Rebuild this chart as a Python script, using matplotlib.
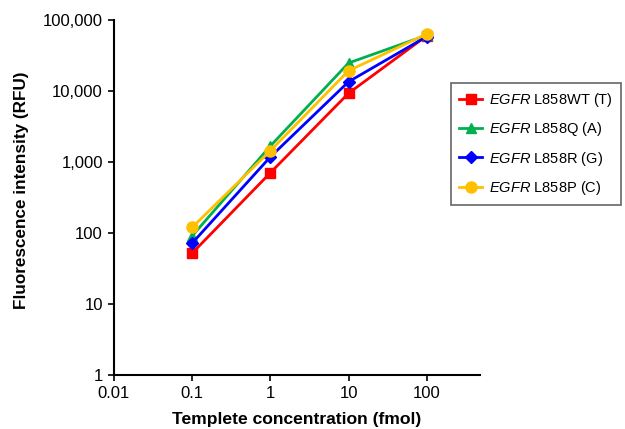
import matplotlib
matplotlib.use("Agg")
import matplotlib.pyplot as plt
import matplotlib.ticker as tck

plt.rcParams['font.family'] = ['Liberation Sans', 'DejaVu Sans']
plt.rcParams['mathtext.fontset'] = 'custom'
plt.rcParams['mathtext.it'] = 'Liberation Sans:italic'
plt.rcParams['mathtext.rm'] = 'Liberation Sans'

# template concentration (fmol)
conc = [0.1, 1, 10, 100]

# fluorescence intensity (RFU)
wt_T = [52, 705, 9300, 60000]
q_A = [91, 1680, 24800, 61000]
r_G = [72, 1180, 13500, 58500]
p_C = [120, 1440, 19300, 63500]

labels = [r'$\it{EGFR}$ L858WT (T)', r'$\it{EGFR}$ L858Q (A)',
          r'$\it{EGFR}$ L858R (G)', r'$\it{EGFR}$ L858P (C)']
colors = ['#ff0000', '#00b050', '#0000ff', '#ffc000']
markers = ['s', '^', 'D', 'o']
msizes = [7, 7.5, 6, 8]

yticks = [1, 10, 100, 1000, 10000, 100000]
xticks = [0.01, 0.1, 1, 10, 100]

fig = plt.figure(figsize=(6.25, 4.29), dpi=100)
ax = fig.add_axes([0.1824, 0.1259, 0.5856, 0.8275])

for vals, lab, c, m, ms in zip([wt_T, q_A, r_G, p_C], labels, colors, markers, msizes):
    ax.plot(conc, vals, color=c, marker=m, markersize=ms, linewidth=2, label=lab)

ax.set_xscale('log')
ax.set_yscale('log')
ax.set_xlim(0.01, 480)
ax.set_ylim(1, 100000)
ax.set_xticks(xticks)
ax.set_xticklabels(['0.01', '0.1', '1', '10', '100'])
ax.set_yticks(yticks)
ax.set_yticklabels(['1', '10', '100', '1,000', '10,000', '100,000'])
ax.xaxis.set_minor_locator(tck.NullLocator())
ax.yaxis.set_minor_locator(tck.NullLocator())
ax.tick_params(direction='out', length=4, width=1.2, labelsize=12, pad=4)

ax.spines['top'].set_visible(False)
ax.spines['right'].set_visible(False)
ax.spines['left'].set_linewidth(1.5)
ax.spines['bottom'].set_linewidth(1.5)

ax.set_xlabel("Templete concentration (fmol)", fontsize=12.6, fontweight='bold', labelpad=8)
ax.set_ylabel("Fluorescence intensity (RFU)", fontsize=12.3, fontweight='bold')
ax.yaxis.set_label_coords(-0.233, 0.52)

leg = ax.legend(loc='upper left', bbox_to_anchor=(0.722, 0.807), bbox_transform=fig.transFigure,
                fontsize=10.5, frameon=True, fancybox=False, borderpad=0.55, labelspacing=0.78,
                handlelength=1.55, handletextpad=0.5, borderaxespad=0)
leg.get_frame().set_edgecolor('#404040')
leg.get_frame().set_linewidth(1.2)

plt.savefig("out.png", dpi=100)
